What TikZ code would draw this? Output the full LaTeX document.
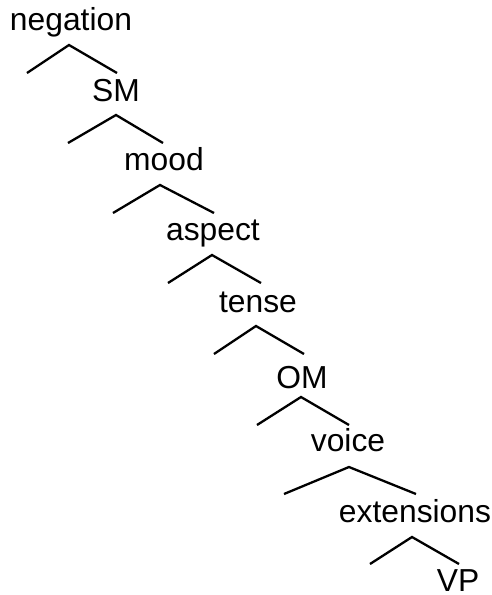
\documentclass[tikz,border=0pt]{standalone}
\usepackage{fontspec}
\setmainfont{Liberation Sans}
\begin{document}
\begin{tikzpicture}[x=1pt,y=-1pt,
  lbl/.style={anchor=base,inner sep=0pt,font=\fontsize{31.8}{36}\selectfont},
  branch/.style={line width=2.3pt,line join=miter,black}]
\useasboundingbox (0,0) rectangle (491,595);
\fill[white] (0,0) rectangle (491,595);
\begin{scope}[shift={(0,-5)}]
% labels
\node[lbl] (neg) at (71,35) {negation};
\node[lbl] (sm)  at (116,106) {SM};
\node[lbl] (mood) at (164,175) {mood};
\node[lbl] (asp) at (213,245) {aspect};
\node[lbl] (tns) at (258,317) {tense};
\node[lbl] (om)  at (302,393) {OM};
\node[lbl] (voi) at (348,456) {voice};
\node[lbl] (ext) at (415,527) {extensions};
\node[lbl] (vp)  at (458,596) {VP};
% branch coordinates
\coordinate (a1) at (69,50);  \coordinate (l1) at (27,78);  \coordinate (r1) at (117,78);
\coordinate (a2) at (116,120); \coordinate (l2) at (68,148); \coordinate (r2) at (163,148);
\coordinate (a3) at (160,190); \coordinate (l3) at (113,218); \coordinate (r3) at (214,218);
\coordinate (a4) at (212,260); \coordinate (l4) at (168,288); \coordinate (r4) at (261,288);
\coordinate (a5) at (256,331); \coordinate (l5) at (214,359); \coordinate (r5) at (304,359);
\coordinate (a6) at (301,402); \coordinate (l6) at (257,430); \coordinate (r6) at (349,430);
\coordinate (a7) at (349,472); \coordinate (l7) at (284,499); \coordinate (r7) at (416,499);
\coordinate (a8) at (412,542); \coordinate (l8) at (370,569); \coordinate (r8) at (459,569);
\foreach \i in {1,...,8}{
  \draw[branch] (l\i) -- (a\i) -- (r\i);
}
\end{scope}
\end{tikzpicture}
\end{document}
